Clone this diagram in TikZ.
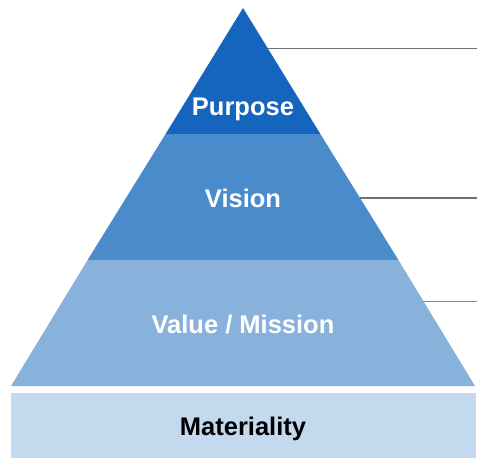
\documentclass[tikz,border=0pt]{standalone}
\usepackage{fontspec}
\setmainfont{Liberation Sans}
\definecolor{cPurpose}{HTML}{1565BF}
\definecolor{cVision}{HTML}{4A8BCB}
\definecolor{cValue}{HTML}{88B2DC}
\definecolor{cMat}{HTML}{C3DAEE}
\definecolor{cLine}{HTML}{707070}
\tikzset{
  lbl/.style={font=\fontsize{25.5}{30}\selectfont\bfseries, text=white, inner sep=0pt, anchor=base},
  lead/.style={draw=cLine, line width=1.5pt},
}
\begin{document}
\begin{tikzpicture}[x=1pt,y=-1pt]
\useasboundingbox (0,0) rectangle (477,458);
% bands: apex (243,8), base y=386 from 11 to 475
\fill[cPurpose] (243,8) -- (320.4,134) -- (165.6,134) -- cycle;
\fill[cVision] (165.6,134) -- (320.4,134) -- (398.4,260) -- (87.6,260) -- cycle;
\fill[cValue] (87.6,260) -- (398.4,260) -- (475,386) -- (11,386) -- cycle;
\fill[cMat] (11,393) rectangle (476,458);
\node[lbl] (purpose) at (243,115) {Purpose};
\node[lbl] (vision) at (243,207) {Vision};
\node[lbl] (value) at (243,333) {Value / Mission};
\node[lbl, text=black] (mat) at (243,435) {Materiality};
\coordinate (a1) at (267.6,48.5);
\coordinate (b1) at (477,48.5);
\coordinate (a2) at (359.5,198);
\coordinate (b2) at (477,198);
\coordinate (a3) at (423,301);
\coordinate (b3) at (477,301);
\draw[lead] (a1) -- (b1);
\draw[lead] (a2) -- (b2);
\draw[lead, line width=1pt, draw=cLine!80] (a3) -- (b3);
\end{tikzpicture}
\end{document}
